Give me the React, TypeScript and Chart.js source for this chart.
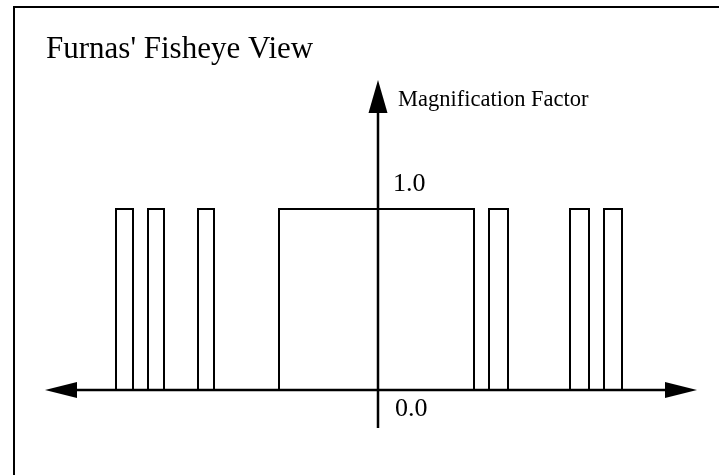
import React, { useEffect, useRef } from "react";
import { Chart, registerables } from "chart.js";

Chart.register(...registerables);

// Data: intervals of the line shown at magnification factor 1.0
const barStart = [-13.1, -11.5, -9.0, -4.95, 5.55, 9.6, 11.3];
const barEnd = [-12.25, -10.7, -8.2, 4.8, 6.5, 10.55, 12.2];
const magnification = [1.0, 1.0, 1.0, 1.0, 1.0, 1.0, 1.0];
const tickValues = [0, 1];
const tickLabels = ["0.0", "1.0"];
const titleText = "Furnas' Fisheye View";
const axisLabel = "Magnification Factor";

const SERIF = '"Liberation Serif", "Times New Roman", Times, serif';

const axesPlugin = {
  id: "fisheyeAxes",
  beforeDraw(chart: any) {
    const { ctx, width, height } = chart;
    ctx.save();
    ctx.fillStyle = "#ffffff";
    ctx.fillRect(0, 0, width, height);
    // frame
    ctx.strokeStyle = "#000";
    ctx.lineWidth = 2;
    ctx.beginPath();
    ctx.moveTo(14, height);
    ctx.lineTo(14, 7);
    ctx.lineTo(width, 7);
    ctx.stroke();
    // title
    ctx.fillStyle = "#000";
    ctx.font = `31px ${SERIF}`;
    ctx.textBaseline = "alphabetic";
    ctx.textAlign = "left";
    ctx.fillText(titleText, 46, 58);
    ctx.restore();
  },
  afterDatasetsDraw(chart: any) {
    const { ctx, scales } = chart;
    const xs = scales.x;
    const ys = scales.y;
    const x0 = xs.getPixelForValue(0);
    const y0 = ys.getPixelForValue(0);
    ctx.save();
    ctx.strokeStyle = "#000";
    ctx.fillStyle = "#000";
    // horizontal axis
    ctx.lineWidth = 2.5;
    ctx.beginPath();
    ctx.moveTo(xs.left + 10, y0);
    ctx.lineTo(xs.right - 10, y0);
    ctx.stroke();
    // left arrowhead
    ctx.beginPath();
    ctx.moveTo(xs.left, y0);
    ctx.lineTo(xs.left + 32, y0 - 8);
    ctx.lineTo(xs.left + 32, y0 + 8);
    ctx.closePath();
    ctx.fill();
    // right arrowhead
    ctx.beginPath();
    ctx.moveTo(xs.right, y0);
    ctx.lineTo(xs.right - 32, y0 - 8);
    ctx.lineTo(xs.right - 32, y0 + 8);
    ctx.closePath();
    ctx.fill();
    // vertical axis
    ctx.lineWidth = 2.5;
    ctx.beginPath();
    ctx.moveTo(x0, ys.bottom);
    ctx.lineTo(x0, ys.top + 10);
    ctx.stroke();
    ctx.beginPath();
    ctx.moveTo(x0, ys.top);
    ctx.lineTo(x0 - 9.5, ys.top + 33);
    ctx.lineTo(x0 + 9.5, ys.top + 33);
    ctx.closePath();
    ctx.fill();
    // axis label
    ctx.font = `22.5px ${SERIF}`;
    ctx.textAlign = "left";
    ctx.textBaseline = "alphabetic";
    ctx.fillText(axisLabel, x0 + 20, ys.top + 26);
    // tick labels
    ctx.font = `26px ${SERIF}`;
    tickValues.forEach((v, i) => {
      const py = ys.getPixelForValue(v);
      if (v === 0) {
        ctx.fillText(tickLabels[i], x0 + 17, py + 26);
      } else {
        ctx.fillText(tickLabels[i], x0 + 15, py - 18);
      }
    });
    ctx.restore();
  },
};

export default function App() {
  const canvasRef = useRef<HTMLCanvasElement | null>(null);

  useEffect(() => {
    const canvas = canvasRef.current;
    if (!canvas) return;
    const points: any[] = [];
    barStart.forEach((s, i) => {
      const e = barEnd[i];
      const m = magnification[i];
      points.push({ x: s, y: 0 });
      points.push({ x: s, y: m });
      points.push({ x: e, y: m });
      points.push({ x: e, y: 0 });
      points.push({ x: e, y: null });
    });
    const chart = new Chart(canvas, {
      type: "scatter",
      data: {
        datasets: [
          {
            label: axisLabel,
            data: points,
            showLine: true,
            spanGaps: false,
            borderColor: "#000",
            borderWidth: 2,
            borderJoinStyle: "miter",
            pointRadius: 0,
            fill: false,
            tension: 0,
          } as any,
        ],
      },
      options: {
        responsive: false,
        animation: false,
        layout: { padding: { left: 45, right: 22, top: 80, bottom: 47 } },
        scales: {
          x: { type: "linear", min: -16.65, max: 15.95, display: false },
          y: { type: "linear", min: -0.21, max: 1.713, display: false },
        },
        plugins: {
          legend: { display: false },
          tooltip: { enabled: false },
          title: { display: false },
        },
      },
      plugins: [axesPlugin],
    });
    return () => chart.destroy();
  }, []);

  return (
    <div style={{ position: "fixed", left: 0, top: 0, width: 719, height: 475, background: "#fff" }}>
      <canvas ref={canvasRef} width={719} height={475} style={{ display: "block" }} />
    </div>
  );
}
